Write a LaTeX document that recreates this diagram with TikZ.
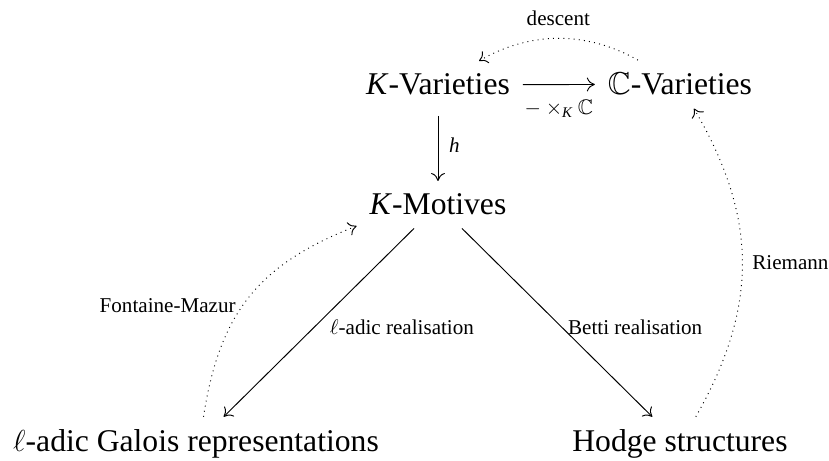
\documentclass[tikz,border=0pt]{standalone}
\usepackage{fontspec}
\setmainfont{Liberation Serif}
\usepackage{amsmath,amssymb}
\usetikzlibrary{positioning,arrows.meta}

\begin{document}
\begin{tikzpicture}[
  obj/.style={font=\fontsize{15}{18}\selectfont, inner sep=6pt, anchor=base},
  lbl/.style={font=\normalsize, inner sep=3pt},
  arr/.style={-{Computer Modern Rightarrow[length=3.8pt, width=6.6pt]}, line width=0.45pt},
  dotarr/.style={arr, dotted}
]
\useasboundingbox (0.000,0.000) rectangle (13.817,-7.683);
\node[obj] (kvar) at (7.300,-1.583) {\textit{K}-Varieties};
\node[obj] (cvar) at (11.333,-1.583) {$\mathbb{C}$-Varieties};
\node[obj] (kmot) at (7.300,-3.583) {\textit{K}-Motives};
\node[obj] (galois) at (3.267,-7.530) {$\ell$-adic Galois representations};
\node[obj] (hodge) at (11.333,-7.530) {Hodge structures};
\draw[arr] (kvar) -- node[lbl, below=4pt] {$-\times_{\textit{K}}\mathbb{C}$} (cvar);
\draw[arr, shorten <=3.5pt] (kvar) -- node[lbl, right=2pt] {\textit{h}} (kmot);
\draw[arr] (kmot) -- node[lbl, right=2pt, yshift=-2pt] {$\ell$-adic realisation} (galois);
\draw[arr] (kmot) -- node[lbl, right=2pt, yshift=-2pt] {Betti realisation} (hodge);
\draw[dotarr] (cvar) to[bend right=30, looseness=0.95] node[lbl, above=3pt] {descent} (kvar);
\draw[dotarr] (hodge) to[bend right=30, looseness=1.05] node[lbl, right=1.5pt] {Riemann} (cvar);
\draw[dotarr] (galois) to[bend left=30, looseness=1.1] node[lbl, left=0pt, pos=0.45] {Fontaine-Mazur} (kmot);
\end{tikzpicture}
\end{document}
